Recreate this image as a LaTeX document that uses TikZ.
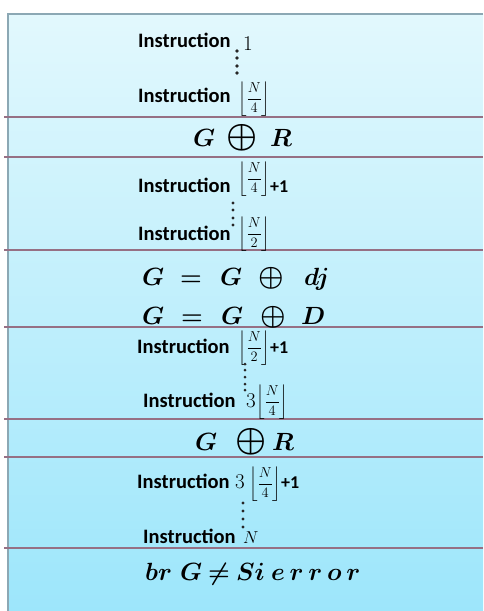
\documentclass[tikz,border=0pt]{standalone}
\usepackage{amsmath}
\usepackage{graphicx}
\usepackage{fontspec}
\newfontfamily\calib{Carlito}
\definecolor{bgtop}{RGB}{226,248,253}
\definecolor{bgbot}{RGB}{157,230,251}
\definecolor{sepline}{RGB}{150,112,132}
\definecolor{edgec}{RGB}{140,168,180}
\tikzset{
  instr/.style={font=\calib\fontsize{20.5}{24}\selectfont\bfseries, inner sep=0pt, anchor=base west},
  plusone/.style={font=\calib\fontsize{18}{20}\selectfont\bfseries, inner sep=0pt, anchor=base west},
  numr/.style={font=\fontsize{21}{24}\selectfont, inner sep=0pt, anchor=base west},
  floorbox/.style={font=\fontsize{14}{16}\selectfont, inner sep=0pt, anchor=west},
  bm/.style={font=\fontsize{24}{28}\selectfont\boldmath, inner sep=0pt, anchor=base west},
  bmb/.style={font=\fontsize{26}{30}\selectfont\boldmath, inner sep=0pt, anchor=base west},
  sep/.style={draw=sepline, line width=1.3pt},
  vdot/.style={fill=black!85}
}
\newcommand{\flr}[1]{$\left\lfloor\dfrac{N}{#1}\right\rfloor$}
\begin{document}
\begin{tikzpicture}[x=1pt,y=-1pt]
\useasboundingbox (0,0) rectangle (483,611);
\shade[top color=bgtop, bottom color=bgbot] (8,14) rectangle (483,611);
\draw[edgec, line width=1.5pt] (8,611) -- (8,14) -- (483,14);

% separators
\foreach \yy in {117,157,250,327,419,457,548}
  \draw[sep] (4,\yy) -- (483,\yy);

% block 1
\node[instr] (i1) at (138,47) {Instruction};
\node[numr] (i1n) at (243,50) {1};
\foreach \yy in {51,58,66,73} \fill[vdot] (237,\yy) circle (1.8);
\node[instr] (i2) at (138,102) {Instruction};
\node[floorbox] (f2) at (238,99) {\flr{4}};

% G xor R
\node[bm] (g1) at (193,146) {$G$};
\node[bm] (o1) at (226,146) {\scalebox{1.4}{$\oplus$}};
\node[bm] (r1) at (270,146) {$R$};

% block 2
\node[instr] (i3) at (138,192) {Instruction};
\node[floorbox] (f3) at (238,179) {\flr{4}};
\node[plusone] (p3) at (270,192) {+1};
\foreach \yy in {203,210,218,225} \fill[vdot] (233,\yy) circle (1.6);
\node[instr] (i4) at (138,240) {Instruction};
\node[floorbox] (f4) at (238,234) {\flr{2}};

% G = G xor dj
\node[bm] (g2) at (142,285) {$G$};
\node[bm] (e2) at (180,285) {$=$};
\node[bm] (g3) at (220,285) {$G$};
\node[bm] (o2) at (258,285) {\scalebox{1.15}{$\oplus$}};
\node[bm] (d2) at (304,285) {$dj$};
% G = G xor D
\node[bm] (g4) at (142,324) {$G$};
\node[bm] (e4) at (181,324) {$=$};
\node[bm] (g5) at (221,324) {$G$};
\node[bm] (o4) at (260,324) {\scalebox{1.15}{$\oplus$}};
\node[bm] (d4) at (301,324) {$D$};

% block 3
\node[instr] (i5) at (137,353) {Instruction};
\node[floorbox] (f5) at (238,348) {\flr{2}};
\node[plusone] (p5) at (270,353) {+1};
\foreach \yy in {364,370,377,384,390} \fill[vdot] (245,\yy) circle (1.5);
\node[instr] (i6) at (143,407) {Instruction};
\node[numr] (n6) at (246,407) {3};
\node[floorbox] (f6) at (256,402) {\flr{4}};

% G xor R
\node[bm] (g6) at (195,450) {$G$};
\node[bm] (o6) at (235,450) {\scalebox{1.4}{$\oplus$}};
\node[bm] (r6) at (272,450) {$R$};

% block 4
\node[instr] (i7) at (137,488) {Instruction};
\node[numr] (n7) at (235,488) {3};
\node[floorbox] (f7) at (249,484) {\flr{4}};
\node[plusone] (p7) at (281,488) {+1};
\foreach \yy in {503,511,519,527} \fill[vdot] (243,\yy) circle (1.6);
\node[instr] (i8) at (143,543) {Instruction};
\node[numr, font=\fontsize{19}{22}\selectfont] (n8) at (243,543) {$N$};

% br G != Si error
\node[bmb] (b9) at (145,580) {$br$};
\node[bmb] (g9) at (180,580) {$G$};
\node[bmb] (ne9) at (208,580) {$\ne$};
\node[bmb] (s9) at (236,580) {$Si$};
\node[bmb] (er9) at (271,580) {$e\,r\,r\,o\,r$};
\end{tikzpicture}
\end{document}
